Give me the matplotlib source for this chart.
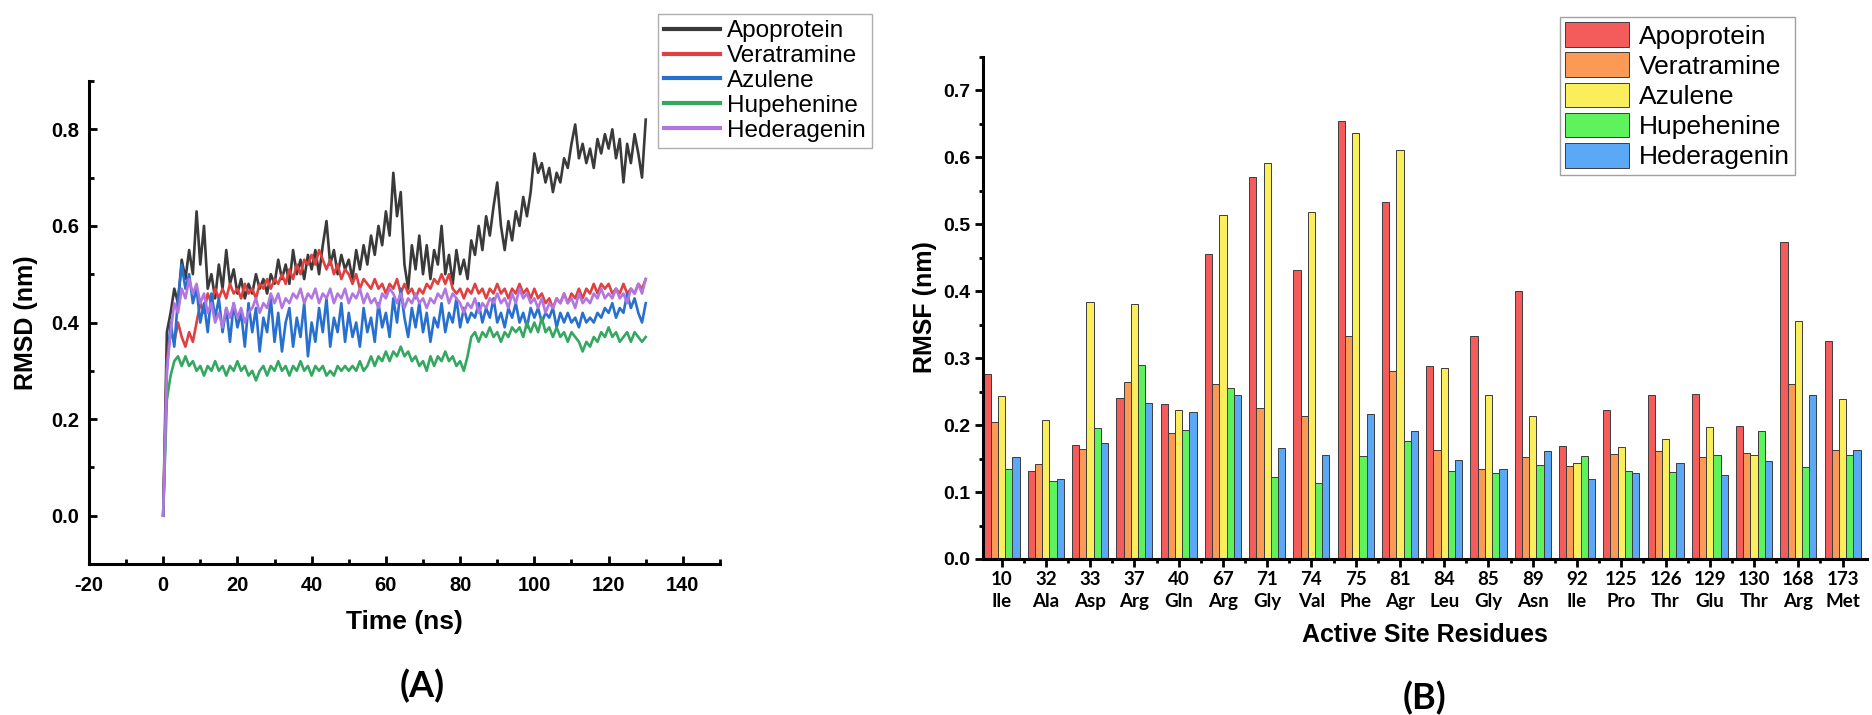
import numpy as np
import matplotlib.pyplot as plt
from matplotlib.ticker import MultipleLocator, FixedLocator

plt.rcParams['font.family'] = ['Liberation Sans', 'DejaVu Sans']
plt.rcParams['axes.unicode_minus'] = False

#<---------------------- Datos RMSD (panel A), un valor por ns ---------------------->
time_ns = np.arange(0, 131)
rmsd_apo = [0.00, 0.38, 0.42, 0.47, 0.44, 0.53, 0.49, 0.55, 0.50, 0.63,
            0.52, 0.60, 0.47, 0.50, 0.45, 0.52, 0.47, 0.55, 0.48, 0.51,
            0.46, 0.49, 0.45, 0.48, 0.46, 0.50, 0.47, 0.49, 0.46, 0.50,
            0.48, 0.53, 0.49, 0.52, 0.48, 0.55, 0.50, 0.53, 0.49, 0.54,
            0.51, 0.55, 0.50, 0.56, 0.61, 0.52, 0.55, 0.50, 0.54, 0.51,
            0.53, 0.49, 0.55, 0.51, 0.56, 0.52, 0.58, 0.54, 0.60, 0.56,
            0.63, 0.58, 0.71, 0.62, 0.67, 0.52, 0.47, 0.56, 0.51, 0.58,
            0.50, 0.56, 0.49, 0.55, 0.52, 0.60, 0.50, 0.54, 0.48, 0.55,
            0.50, 0.53, 0.49, 0.57, 0.54, 0.60, 0.55, 0.62, 0.58, 0.64,
            0.69, 0.60, 0.55, 0.61, 0.57, 0.63, 0.60, 0.66, 0.62, 0.67,
            0.75, 0.71, 0.73, 0.69, 0.72, 0.67, 0.71, 0.69, 0.74, 0.72,
            0.77, 0.81, 0.74, 0.77, 0.73, 0.76, 0.72, 0.78, 0.75, 0.79,
            0.76, 0.80, 0.74, 0.78, 0.69, 0.77, 0.73, 0.79, 0.75, 0.70,
            0.82]
rmsd_ver = [0.00, 0.32, 0.38, 0.36, 0.40, 0.37, 0.35, 0.38, 0.36, 0.40,
            0.44, 0.42, 0.46, 0.44, 0.47, 0.45, 0.47, 0.45, 0.48, 0.46,
            0.47, 0.45, 0.48, 0.46, 0.47, 0.45, 0.48, 0.47, 0.49, 0.47,
            0.49, 0.48, 0.50, 0.48, 0.51, 0.49, 0.52, 0.50, 0.53, 0.52,
            0.54, 0.52, 0.55, 0.53, 0.51, 0.53, 0.50, 0.52, 0.49, 0.51,
            0.50, 0.48, 0.50, 0.47, 0.49, 0.48, 0.47, 0.49, 0.47, 0.48,
            0.46, 0.48, 0.47, 0.49, 0.46, 0.48, 0.46, 0.47, 0.45, 0.47,
            0.46, 0.48, 0.47, 0.49, 0.48, 0.50, 0.48, 0.50, 0.47, 0.46,
            0.47, 0.45, 0.47, 0.46, 0.48, 0.46, 0.47, 0.45, 0.47, 0.46,
            0.48, 0.46, 0.47, 0.45, 0.47, 0.46, 0.48, 0.46, 0.47, 0.45,
            0.47, 0.45, 0.46, 0.44, 0.45, 0.43, 0.45, 0.44, 0.46, 0.44,
            0.46, 0.45, 0.47, 0.45, 0.47, 0.46, 0.48, 0.46, 0.48, 0.47,
            0.48, 0.46, 0.47, 0.46, 0.48, 0.46, 0.47, 0.46, 0.48, 0.47,
            0.49]
rmsd_azu = [0.00, 0.30, 0.40, 0.35, 0.45, 0.52, 0.47, 0.50, 0.44, 0.47,
            0.40, 0.44, 0.38, 0.46, 0.41, 0.45, 0.38, 0.43, 0.36, 0.44,
            0.39, 0.42, 0.35, 0.44, 0.38, 0.43, 0.34, 0.41, 0.38, 0.45,
            0.36, 0.42, 0.34, 0.40, 0.43, 0.35, 0.41, 0.37, 0.44, 0.33,
            0.40, 0.36, 0.43, 0.38, 0.45, 0.35, 0.41, 0.38, 0.44, 0.36,
            0.42, 0.37, 0.40, 0.35, 0.43, 0.38, 0.41, 0.36, 0.44, 0.39,
            0.42, 0.37, 0.45, 0.40, 0.47, 0.41, 0.37, 0.43, 0.39, 0.44,
            0.38, 0.42, 0.36, 0.41, 0.39, 0.44, 0.38, 0.42, 0.40, 0.45,
            0.39, 0.43, 0.40, 0.42, 0.41, 0.44, 0.40, 0.43, 0.41, 0.45,
            0.40, 0.42, 0.39, 0.43, 0.41, 0.44, 0.40, 0.42, 0.39, 0.43,
            0.41, 0.43, 0.40, 0.42, 0.41, 0.43, 0.39, 0.42, 0.40, 0.42,
            0.40, 0.41, 0.39, 0.42, 0.40, 0.41, 0.40, 0.42, 0.41, 0.43,
            0.42, 0.44, 0.41, 0.43, 0.42, 0.46, 0.43, 0.45, 0.42, 0.40,
            0.44]
rmsd_hup = [0.00, 0.24, 0.29, 0.32, 0.33, 0.31, 0.33, 0.31, 0.32, 0.30,
            0.31, 0.29, 0.31, 0.30, 0.32, 0.30, 0.31, 0.29, 0.31, 0.30,
            0.32, 0.30, 0.31, 0.29, 0.30, 0.28, 0.30, 0.31, 0.29, 0.31,
            0.30, 0.32, 0.30, 0.31, 0.29, 0.31, 0.30, 0.32, 0.30, 0.31,
            0.29, 0.31, 0.30, 0.31, 0.29, 0.30, 0.29, 0.31, 0.30, 0.31,
            0.30, 0.31, 0.30, 0.32, 0.30, 0.31, 0.33, 0.31, 0.33, 0.32,
            0.34, 0.32, 0.34, 0.33, 0.35, 0.33, 0.34, 0.32, 0.33, 0.31,
            0.32, 0.30, 0.33, 0.31, 0.33, 0.32, 0.34, 0.32, 0.33, 0.31,
            0.32, 0.30, 0.33, 0.37, 0.38, 0.36, 0.38, 0.37, 0.39, 0.37,
            0.38, 0.36, 0.38, 0.37, 0.39, 0.38, 0.39, 0.37, 0.40, 0.38,
            0.40, 0.38, 0.41, 0.38, 0.39, 0.37, 0.39, 0.37, 0.38, 0.36,
            0.38, 0.37, 0.36, 0.34, 0.36, 0.35, 0.37, 0.36, 0.38, 0.37,
            0.39, 0.37, 0.38, 0.36, 0.37, 0.38, 0.36, 0.38, 0.37, 0.36,
            0.37]
rmsd_hed = [0.00, 0.30, 0.38, 0.44, 0.42, 0.47, 0.45, 0.49, 0.46, 0.48,
            0.44, 0.46, 0.42, 0.44, 0.40, 0.42, 0.39, 0.43, 0.41, 0.44,
            0.41, 0.43, 0.40, 0.42, 0.43, 0.45, 0.42, 0.44, 0.43, 0.46,
            0.44, 0.46, 0.43, 0.45, 0.44, 0.46, 0.45, 0.47, 0.44, 0.46,
            0.45, 0.47, 0.44, 0.46, 0.45, 0.47, 0.44, 0.46, 0.45, 0.47,
            0.44, 0.46, 0.45, 0.47, 0.44, 0.46, 0.44, 0.45, 0.43, 0.46,
            0.45, 0.47, 0.46, 0.44, 0.46, 0.43, 0.45, 0.44, 0.46, 0.44,
            0.45, 0.43, 0.45, 0.44, 0.46, 0.45, 0.47, 0.44, 0.46, 0.45,
            0.44, 0.42, 0.44, 0.43, 0.45, 0.42, 0.44, 0.43, 0.45, 0.44,
            0.46, 0.44, 0.45, 0.43, 0.46, 0.44, 0.47, 0.45, 0.46, 0.44,
            0.45, 0.43, 0.45, 0.42, 0.44, 0.43, 0.45, 0.44, 0.46, 0.44,
            0.45, 0.43, 0.46, 0.44, 0.45, 0.44, 0.46, 0.45, 0.47, 0.45,
            0.46, 0.45, 0.47, 0.45, 0.46, 0.44, 0.47, 0.46, 0.48, 0.46,
            0.49]

#<---------------------- Datos RMSF (panel B) ---------------------->
res_num = ["10", "32", "33", "37", "40", "67", "71", "74", "75", "81",
           "84", "85", "89", "92", "125", "126", "129", "130", "168", "173"]
res_name = ["Ile", "Ala", "Asp", "Arg", "Gln", "Arg", "Gly", "Val", "Phe", "Agr",
            "Leu", "Gly", "Asn", "Ile", "Pro", "Thr", "Glu", "Thr", "Arg", "Met"]
rmsf_apo = [0.277, 0.132, 0.170, 0.240, 0.232, 0.456, 0.570, 0.432, 0.654, 0.534,
            0.288, 0.333, 0.400, 0.169, 0.222, 0.245, 0.247, 0.199, 0.473, 0.326]
rmsf_ver = [0.204, 0.142, 0.165, 0.265, 0.188, 0.261, 0.225, 0.213, 0.333, 0.281,
            0.163, 0.135, 0.152, 0.139, 0.157, 0.161, 0.152, 0.159, 0.262, 0.163]
rmsf_azu = [0.244, 0.207, 0.384, 0.381, 0.223, 0.514, 0.591, 0.519, 0.637, 0.611,
            0.285, 0.245, 0.213, 0.143, 0.167, 0.179, 0.197, 0.156, 0.355, 0.239]
rmsf_hup = [0.135, 0.117, 0.195, 0.290, 0.193, 0.255, 0.123, 0.114, 0.154, 0.177,
            0.131, 0.128, 0.141, 0.154, 0.132, 0.130, 0.156, 0.191, 0.138, 0.155]
rmsf_hed = [0.152, 0.120, 0.174, 0.233, 0.219, 0.245, 0.166, 0.156, 0.217, 0.191,
            0.148, 0.135, 0.161, 0.120, 0.128, 0.143, 0.125, 0.146, 0.245, 0.163]

labels = ["Apoprotein", "Veratramine", "Azulene", "Hupehenine", "Hederagenin"]
line_colors = ["#3a3a3a", "#e0403f", "#2870d0", "#34a861", "#b276e0"]
bar_colors = ["#f45b5b", "#fa9a55", "#fbee5c", "#5ef25c", "#5aa8f6"]

fig = plt.figure(figsize=(18.72, 7.15), dpi=100)

#<---------------------- Panel A ---------------------->
axA = fig.add_axes([0.0475, 0.2112, 0.3371, 0.6755])
series = [rmsd_apo, rmsd_ver, rmsd_azu, rmsd_hup, rmsd_hed]
for s, c, lab in zip(series, line_colors, labels):
    axA.plot(time_ns, s, color=c, lw=1.9, label=lab)
axA.set_xlim(-20, 150)
axA.set_ylim(-0.1, 0.9)
axA.xaxis.set_major_locator(MultipleLocator(20))
axA.xaxis.set_minor_locator(MultipleLocator(10))
axA.yaxis.set_major_locator(FixedLocator([0.0, 0.2, 0.4, 0.6, 0.8]))
axA.yaxis.set_minor_locator(FixedLocator([-0.1, 0.1, 0.3, 0.5, 0.7, 0.9]))
axA.yaxis.set_major_formatter(plt.FuncFormatter(lambda v, p: "%.1f" % v))
for sp in ["top", "right"]:
    axA.spines[sp].set_visible(False)
for sp in ["left", "bottom"]:
    axA.spines[sp].set_linewidth(2.2)
axA.tick_params(which="major", direction="in", length=6, width=2, labelsize=14.5)
axA.tick_params(which="minor", direction="in", length=3.5, width=2)
axA.tick_params(axis="x", pad=9)
axA.tick_params(axis="y", pad=7)
for t in axA.get_xticklabels() + axA.get_yticklabels():
    t.set_fontweight("bold")
legA = axA.legend(loc="upper left", bbox_to_anchor=(0.3515, 0.9804), bbox_transform=fig.transFigure,
                  fontsize=17.5, frameon=True, fancybox=False, edgecolor="#9a9a9a",
                  handlelength=2.3, handletextpad=0.3, labelspacing=0.12, borderpad=0.25,
                  borderaxespad=0)
legA.get_frame().set_linewidth(1.0)
for ln in legA.get_lines():
    ln.set_linewidth(3)
fig.text(0.0139, 0.548, "RMSD (nm)", rotation=90, ha="center", va="center",
         fontsize=18, fontweight="bold")
fig.text(0.2158, 0.130, "Time (ns)", ha="center", va="center", fontsize=19, fontweight="bold")
fig.text(0.2254, 0.040, "(A)", ha="center", va="center", fontsize=26, fontweight="bold",
         family=["Lato", "DejaVu Sans"])

#<---------------------- Panel B ---------------------->
axB = fig.add_axes([0.5251, 0.2182, 0.4722, 0.7021])
x = np.arange(len(res_num))
w = 0.163
bar_series = [rmsf_apo, rmsf_ver, rmsf_azu, rmsf_hup, rmsf_hed]
for i, (vals, c, lab) in enumerate(zip(bar_series, bar_colors, labels)):
    axB.bar(x + (i - 2) * w, vals, width=w, color=c, edgecolor="#3c3c3c", linewidth=0.7, label=lab)
axB.set_xlim(-0.42, 19.55)
axB.set_ylim(0, 0.75)
axB.set_xticks(x)
axB.set_xticklabels([n + "\n" + r for n, r in zip(res_num, res_name)],
                    fontsize=13.5, fontweight="bold", family=["Lato", "DejaVu Sans"], linespacing=1.35)
axB.xaxis.set_minor_locator(FixedLocator(x[:-1] + 0.5))
axB.yaxis.set_major_locator(MultipleLocator(0.1))
axB.yaxis.set_minor_locator(MultipleLocator(0.05))
axB.yaxis.set_major_formatter(plt.FuncFormatter(lambda v, p: "%.1f" % v))
for sp in ["top", "right"]:
    axB.spines[sp].set_visible(False)
for sp in ["left", "bottom"]:
    axB.spines[sp].set_linewidth(2.2)
axB.tick_params(which="major", direction="out", length=6, width=2)
axB.tick_params(which="minor", direction="out", length=3, width=2)
axB.tick_params(axis="x", pad=3)
axB.tick_params(axis="y", labelsize=14, pad=3)
for t in axB.get_yticklabels():
    t.set_fontweight("bold")
legB = axB.legend(loc="upper left", bbox_to_anchor=(0.8333, 0.9762), bbox_transform=fig.transFigure,
                  fontsize=19, frameon=True, fancybox=False, edgecolor="#8a8a8a",
                  handlelength=2.4, handleheight=1.05, handletextpad=0.4, labelspacing=0.15,
                  borderpad=0.2, borderaxespad=0)
legB.get_frame().set_linewidth(1.0)
fig.text(0.494, 0.57, "RMSF (nm)", rotation=90, ha="center", va="center",
         fontsize=18, fontweight="bold")
fig.text(0.7612, 0.112, "Active Site Residues", ha="center", va="center", fontsize=18, fontweight="bold")
fig.text(0.7612, 0.024, "(B)", ha="center", va="center", fontsize=26, fontweight="bold",
         family=["Lato", "DejaVu Sans"])

fig.savefig("out.png", dpi=100)
